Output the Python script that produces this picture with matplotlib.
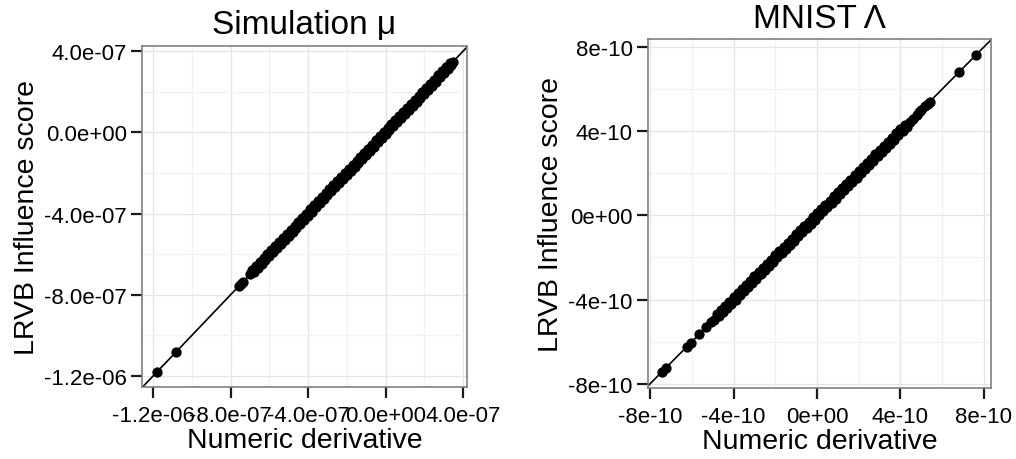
import matplotlib
matplotlib.use("Agg")
import matplotlib.pyplot as plt
import numpy as np
from matplotlib.ticker import FixedLocator

plt.rcParams["font.family"] = ["Liberation Sans", "DejaVu Sans"]

# simulation mu panel, values in units of 1e-7
sim_numeric = [-11.8, -10.8, -7.55, -7.45, -7.35, -7.0,
               -6.9, -6.8, -6.7, -6.6, -6.5, -6.4, -6.3, -6.2, -6.1, -6.0,
               -5.9, -5.8, -5.7, -5.6, -5.5, -5.4, -5.3, -5.2, -5.1, -5.0,
               -4.9, -4.8, -4.7, -4.6, -4.5, -4.4, -4.3, -4.2, -4.1, -4.0,
               -3.9, -3.8, -3.7, -3.6, -3.5, -3.4, -3.3, -3.2, -3.1, -3.0,
               -2.9, -2.8, -2.7, -2.6, -2.5, -2.4, -2.3, -2.2, -2.1, -2.0,
               -1.9, -1.8, -1.7, -1.6, -1.5, -1.4, -1.3, -1.2, -1.1, -1.0,
               -0.9, -0.8, -0.7, -0.6, -0.5, -0.4, -0.3, -0.2, -0.1, 0.0,
               0.1, 0.2, 0.3, 0.4, 0.5, 0.6, 0.7, 0.8, 0.9, 1.0,
               1.1, 1.2, 1.3, 1.4, 1.5, 1.6, 1.7, 1.8, 1.9, 2.0,
               2.1, 2.2, 2.3, 2.4, 2.5, 2.6, 2.7, 2.8, 2.9, 3.0,
               3.1, 3.2, 3.3, 3.4, 3.46]
sim_lrvb = [-11.8, -10.8, -7.55, -7.45, -7.35, -7.0,
            -6.8, -6.9, -6.6, -6.7, -6.4, -6.5, -6.2, -6.3, -6.0, -6.1,
            -5.8, -5.9, -5.6, -5.7, -5.4, -5.5, -5.2, -5.3, -5.0, -5.1,
            -4.8, -4.9, -4.6, -4.7, -4.4, -4.5, -4.2, -4.3, -4.0, -4.1,
            -3.8, -3.9, -3.6, -3.7, -3.4, -3.5, -3.2, -3.3, -3.0, -3.1,
            -2.8, -2.9, -2.6, -2.7, -2.4, -2.5, -2.2, -2.3, -2.0, -2.1,
            -1.8, -1.9, -1.6, -1.7, -1.4, -1.5, -1.2, -1.3, -1.0, -1.1,
            -0.8, -0.9, -0.6, -0.7, -0.4, -0.5, -0.2, -0.3, 0.0, -0.1,
            0.2, 0.1, 0.4, 0.3, 0.6, 0.5, 0.8, 0.7, 1.0, 0.9,
            1.2, 1.1, 1.4, 1.3, 1.6, 1.5, 1.8, 1.7, 2.0, 1.9,
            2.2, 2.1, 2.4, 2.3, 2.6, 2.5, 2.8, 2.7, 3.0, 2.9,
            3.2, 3.1, 3.4, 3.3, 3.46]
sim_ticks = [-12, -8, -4, 0, 4]
sim_labels = ["-1.2e-06", "-8.0e-07", "-4.0e-07", "0.0e+00", "4.0e-07"]

# MNIST Lambda panel, values in units of 1e-10
mnist_numeric = [-7.45, -7.25, -6.25, -6.05, -5.65, -5.3, -5.08, -4.95,
                 -4.8, -4.7, -4.6, -4.5, -4.4, -4.3, -4.2, -4.1, -4.0, -3.9,
                 -3.8, -3.7, -3.6, -3.5, -3.4, -3.3, -3.2, -3.1, -3.0, -2.9,
                 -2.8, -2.7, -2.6, -2.5, -2.4, -2.3, -2.2, -2.1, -2.0, -1.9,
                 -1.8, -1.7, -1.6, -1.5, -1.4, -1.3, -1.2, -1.1, -1.0, -0.9,
                 -0.8, -0.7, -0.6, -0.5, -0.4, -0.3, -0.2, -0.1, 0.0, 0.1,
                 0.2, 0.3, 0.4, 0.5, 0.6, 0.7, 0.8, 0.9, 1.0, 1.1,
                 1.2, 1.3, 1.4, 1.5, 1.6, 1.7, 1.8, 1.9, 2.0, 2.1,
                 2.2, 2.3, 2.4, 2.5, 2.6, 2.7, 2.8, 2.9, 3.0, 3.1,
                 3.2, 3.3, 3.4, 3.5, 3.6, 3.7, 3.8, 3.9, 4.0, 4.1,
                 4.2, 4.3, 4.45, 4.6, 4.77, 4.9, 5.0, 5.2, 5.3, 5.41,
                 6.8, 7.6]
mnist_lrvb = [-7.45, -7.25, -6.25, -6.05, -5.65, -5.3, -5.08, -4.95,
              -4.7, -4.8, -4.5, -4.6, -4.3, -4.4, -4.1, -4.2, -3.9, -4.0,
              -3.7, -3.8, -3.5, -3.6, -3.3, -3.4, -3.1, -3.2, -2.9, -3.0,
              -2.7, -2.8, -2.5, -2.6, -2.3, -2.4, -2.1, -2.2, -1.9, -2.0,
              -1.7, -1.8, -1.5, -1.6, -1.3, -1.4, -1.1, -1.2, -0.9, -1.0,
              -0.7, -0.8, -0.5, -0.6, -0.3, -0.4, -0.1, -0.2, 0.1, 0.0,
              0.3, 0.2, 0.5, 0.4, 0.7, 0.6, 0.9, 0.8, 1.1, 1.0,
              1.3, 1.2, 1.5, 1.4, 1.7, 1.6, 1.9, 1.8, 2.1, 2.0,
              2.3, 2.2, 2.5, 2.4, 2.7, 2.6, 2.9, 2.8, 3.1, 3.0,
              3.3, 3.2, 3.5, 3.4, 3.7, 3.6, 3.9, 3.8, 4.1, 4.0,
              4.3, 4.2, 4.45, 4.6, 4.77, 4.9, 5.0, 5.2, 5.3, 5.41,
              6.8, 7.6]
mnist_ticks = [-8, -4, 0, 4, 8]
mnist_labels = ["-8e-10", "-4e-10", "0e+00", "4e-10", "8e-10"]


def style_panel(ax, ticks, labels, scale, title):
    ax.set_facecolor("white")
    for sp in ax.spines.values():
        sp.set_color("#7f7f7f")
        sp.set_linewidth(1.2)
    t = [v * scale for v in ticks]
    minor = [(a + b) / 2 for a, b in zip(t[:-1], t[1:])]
    for axis in (ax.xaxis, ax.yaxis):
        axis.set_major_locator(FixedLocator(t))
        axis.set_minor_locator(FixedLocator(minor))
    ax.set_xticklabels(labels)
    ax.set_yticklabels(labels)
    ax.grid(which="major", color="#e6e6e6", linewidth=1.0)
    ax.grid(which="minor", color="#f2f2f2", linewidth=1.0)
    ax.set_axisbelow(True)
    ax.tick_params(which="major", direction="out", length=8, width=1.6,
                   color="#1a1a1a", labelsize=16)
    ax.tick_params(axis="x", pad=5)
    ax.tick_params(axis="y", pad=3)
    ax.tick_params(which="minor", length=0)
    ax.set_title(title, fontsize=24, pad=9)
    ax.set_xlabel("Numeric derivative", fontsize=20.5, labelpad=1)
    ax.set_ylabel("LRVB Influence score", fontsize=20.5, labelpad=3)


fig = plt.figure(figsize=(10.16, 4.6), dpi=100)

# left panel
ax1 = fig.add_axes([142 / 1016, 72 / 460, 325 / 1016, 341 / 460])
x1 = np.array(sim_numeric) * 1e-7
y1 = np.array(sim_lrvb) * 1e-7
ax1.axline((0, 0), slope=1, color="black", linewidth=1.2, zorder=2)
ax1.scatter(x1, y1, s=55, color="black", zorder=3, linewidths=0)
ax1.set_xlim(-12.57e-7, 4.2e-7)
ax1.set_ylim(-12.54e-7, 4.25e-7)
style_panel(ax1, sim_ticks, sim_labels, 1e-7, "Simulation μ")

# right panel
ax2 = fig.add_axes([648 / 1016, 71 / 460, 343 / 1016, 349 / 460])
x2 = np.array(mnist_numeric) * 1e-10
y2 = np.array(mnist_lrvb) * 1e-10
ax2.axline((0, 0), slope=1, color="black", linewidth=1.2, zorder=2)
ax2.scatter(x2, y2, s=55, color="black", zorder=3, linewidths=0)
ax2.set_xlim(-8.1e-10, 8.34e-10)
ax2.set_ylim(-8.2e-10, 8.38e-10)
style_panel(ax2, mnist_ticks, mnist_labels, 1e-10, "MNIST Λ")

fig.savefig("out.png", dpi=100)
